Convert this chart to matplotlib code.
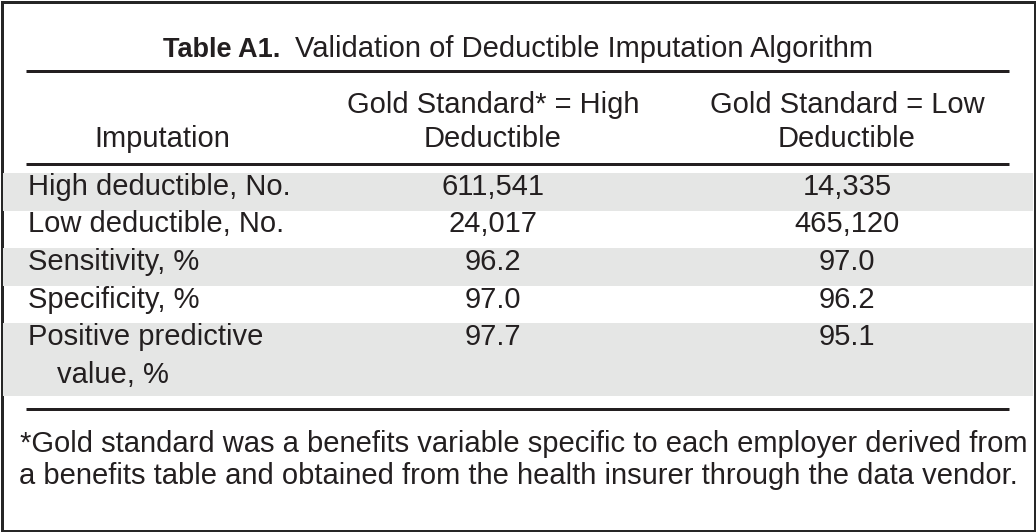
"""
Recreate Table A1 (validation of deductible imputation algorithm) as a
matplotlib figure drawn in pixel coordinates.
"""

import matplotlib
matplotlib.use("Agg")
import matplotlib.pyplot as plt
from matplotlib.patches import Rectangle
from matplotlib import font_manager


TITLE_BOLD = "Table A1."
TITLE_TEXT = "Validation of Deductible Imputation Algorithm"

COL_HEADERS = ["Imputation",
               "Gold Standard* = High\nDeductible",
               "Gold Standard = Low\nDeductible"]

ROW_LABELS = ["High deductible, No.",
              "Low deductible, No.",
              "Sensitivity, %",
              "Specificity, %",
              "Positive predictive\nvalue, %"]

HIGH_DEDUCTIBLE = [611541, 24017, 96.2, 97.0, 97.7]
LOW_DEDUCTIBLE  = [14335, 465120, 97.0, 96.2, 95.1]
ROW_FORMATS     = ["{:,}", "{:,}", "{:.1f}", "{:.1f}", "{:.1f}"]

FOOTNOTE = ["*Gold standard was a benefits variable specific to each employer derived from",
            "a benefits table and obtained from the health insurer through the data vendor."]

W, H = 1036, 532
INK = "#231f20"
SHADE = "#e5e6e5"
BODY_PT = 21


def pick_font(names):
    available = {f.name for f in font_manager.fontManager.ttflist}
    for name in names:
        if name in available:
            return name
    return "DejaVu Sans"


def main():
    body_font = pick_font(["Liberation Sans", "Arial", "DejaVu Sans"])
    narrow_font = pick_font(["Liberation Sans Narrow", "Liberation Sans"])

    fig = plt.figure(figsize=(W / 100, H / 100), dpi=100)
    ax = fig.add_axes([0, 0, 1, 1])
    ax.set_xlim(0, W)
    ax.set_ylim(H, 0)
    ax.axis("off")

    px = 0.72  # points per pixel at 100 dpi

    # outer frame
    ax.add_patch(Rectangle((1.5, 1.5), W - 3, H - 3, fill=False,
                           edgecolor="#262626", linewidth=3 * px))

    # title: bold lead-in followed by regular text, centered as a whole
    renderer = fig.canvas.get_renderer()
    t1 = ax.text(0, 57, TITLE_BOLD, fontsize=19.5, fontweight="bold",
                 family=narrow_font, color=INK, va="baseline", ha="left")
    t2 = ax.text(0, 57, TITLE_TEXT, fontsize=BODY_PT, family=body_font,
                 color=INK, va="baseline", ha="left")
    w1 = t1.get_window_extent(renderer).width
    w2 = t2.get_window_extent(renderer).width
    gap = 14
    x0 = W / 2 - (w1 + gap + w2) / 2
    t1.set_x(x0)
    t2.set_x(x0 + w1 + gap)

    rule_l, rule_r = 26, 1009
    for y in (70.5, 164, 408.5):
        ax.plot([rule_l, rule_r], [y, y], color=INK, linewidth=3 * px,
                solid_capstyle="butt")

    # column headers
    col_x = [162, 493, 847]
    ax.text(col_x[0], 147, COL_HEADERS[0], fontsize=BODY_PT, family=body_font,
            color=INK, ha="center", va="baseline")
    for cx, header in zip(col_x[1:], COL_HEADERS[1:]):
        for i, line in enumerate(header.split("\n")):
            ax.text(cx, 113 + 34 * i, line, fontsize=BODY_PT, family=body_font,
                    color=INK, ha="center", va="baseline")

    # body rows
    row_top = 173
    row_h = 37.5
    line_h = 38
    y = row_top
    for r, label in enumerate(ROW_LABELS):
        lines = label.split("\n")
        h = row_h + line_h * (len(lines) - 1) - (3 if len(lines) > 1 else 0)
        if r % 2 == 0:
            ax.add_patch(Rectangle((3, y), W - 6, h, facecolor=SHADE,
                                   edgecolor="none"))
        base = y + 22
        for i, line in enumerate(lines):
            ax.text(28 + (29 if i else 0), base + line_h * i, line,
                    fontsize=BODY_PT, family=body_font, color=INK,
                    ha="left", va="baseline")
        fmt = ROW_FORMATS[r]
        ax.text(col_x[1], base, fmt.format(HIGH_DEDUCTIBLE[r]),
                fontsize=BODY_PT, family=body_font, color=INK,
                ha="center", va="baseline")
        ax.text(col_x[2], base, fmt.format(LOW_DEDUCTIBLE[r]),
                fontsize=BODY_PT, family=body_font, color=INK,
                ha="center", va="baseline")
        y += h

    # footnote
    for i, line in enumerate(FOOTNOTE):
        ax.text(W / 2 + (6 if i == 0 else 0), 452 + 32 * i, line, fontsize=21,
                family=narrow_font, color=INK, ha="center", va="baseline")

    fig.savefig("out.png", dpi=100)
    plt.close(fig)


if __name__ == "__main__":
    main()
